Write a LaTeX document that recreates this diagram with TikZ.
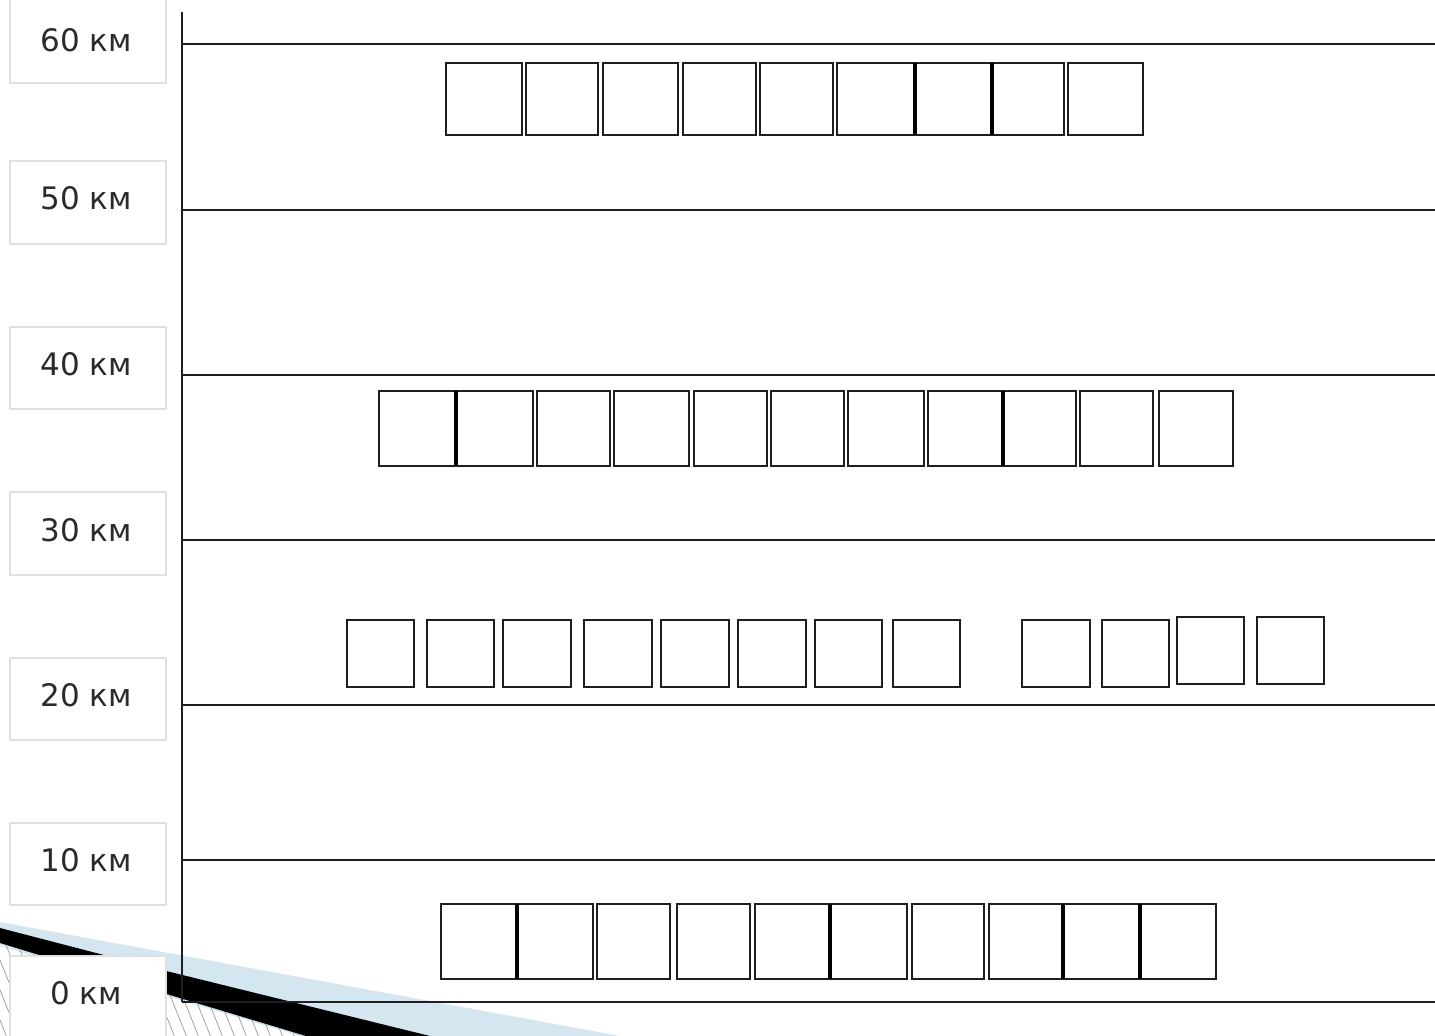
\documentclass[tikz,border=0pt]{standalone}
\usepackage{fontspec}
\setmainfont{DejaVu Sans}
\definecolor{swblue}{HTML}{D4E7F0}
\definecolor{lblframe}{HTML}{E0E0E0}
\definecolor{lbltext}{HTML}{2A2A2A}
\begin{document}
\begin{tikzpicture}[x=1pt,y=-1pt,
  cell/.style={draw=black!88,line width=2.8pt},
  level/.style={draw=black!88,line width=2.1pt},
  axisline/.style={draw=black!88,line width=2.1pt},
  lblbox/.style={draw=lblframe,fill=white,line width=1.2pt},
  lbltxt/.style={text=lbltext,font=\fontsize{31}{36}\selectfont,inner sep=0pt}]
\useasboundingbox (0,0) rectangle (1435,1036);
\fill[white] (0,0) rectangle (1435,1036);
% swoosh at bottom-left
\fill[swblue] (0,922) -- (620,1036) -- (300,1036) -- (0,946) -- cycle;
\begin{scope}
  \clip (0,944) -- (306,1036) -- (0,1036) -- cycle;
  \foreach \i in {-420,-408,...,320} {
    \draw[black!45,line width=0.6pt] (\i,930) -- (\i+44,1040);
  }
\end{scope}
\fill[black] (0,928) -- (150,967) -- (430,1036) -- (306,1036) -- (160,992) -- (0,943) -- cycle;
% axis and levels
\draw[axisline] (182,12) -- (182,1002);
\foreach \yy in {44,210,375,540,705,860,1002} {
  \draw[level] (182,\yy) -- (1435,\yy);
}
% label boxes
\foreach \top/\bot/\ty/\txt in {-5/83/40/60,161/244/198/50,327/409/364/40,492/575/530/30,658/740/695/20,823/905/860/10,956/1040/993/0} {
  \draw[lblbox] (10,\top) rectangle (166,\bot);
  \node[lbltxt] (lbl\txt) at (86,\ty) {\txt\ км};
}
% row at 50-60 km
\foreach \a/\b in {446/522,526/598,603/678,683/756,760/833,837/915,915/992,992/1064,1068/1143} {
  \draw[cell] (\a,63) rectangle (\b,135);
}
% row at 30-40 km
\foreach \a/\b in {379/456,456/533,537/610,614/689,694/767,771/844,848/924,928/1003,1003/1076,1080/1153,1159/1233} {
  \draw[cell] (\a,391) rectangle (\b,466);
}
% row at 20-30 km
\foreach \a/\b in {347/414,427/494,503/571,584/652,661/729,738/806,815/882,893/960,1022/1090,1102/1169} {
  \draw[cell] (\a,620) rectangle (\b,687);
}
\foreach \a/\b in {1177/1244,1257/1324} {
  \draw[cell] (\a,617) rectangle (\b,684);
}
% row at 0-10 km
\foreach \a/\b in {441/517,517/593,597/670,677/750,755/830,830/907,912/984,989/1063,1063/1140,1140/1216} {
  \draw[cell] (\a,904) rectangle (\b,979);
}
% thicker joints where cells touch
\foreach \xx/\ya/\yb in {915/63/135,992/63/135,456/391/466,1003/391/466,517/904/979,830/904/979,1063/904/979,1140/904/979} {
  \draw[black,line width=4pt] (\xx,\ya) -- (\xx,\yb);
}
\end{tikzpicture}
\end{document}
